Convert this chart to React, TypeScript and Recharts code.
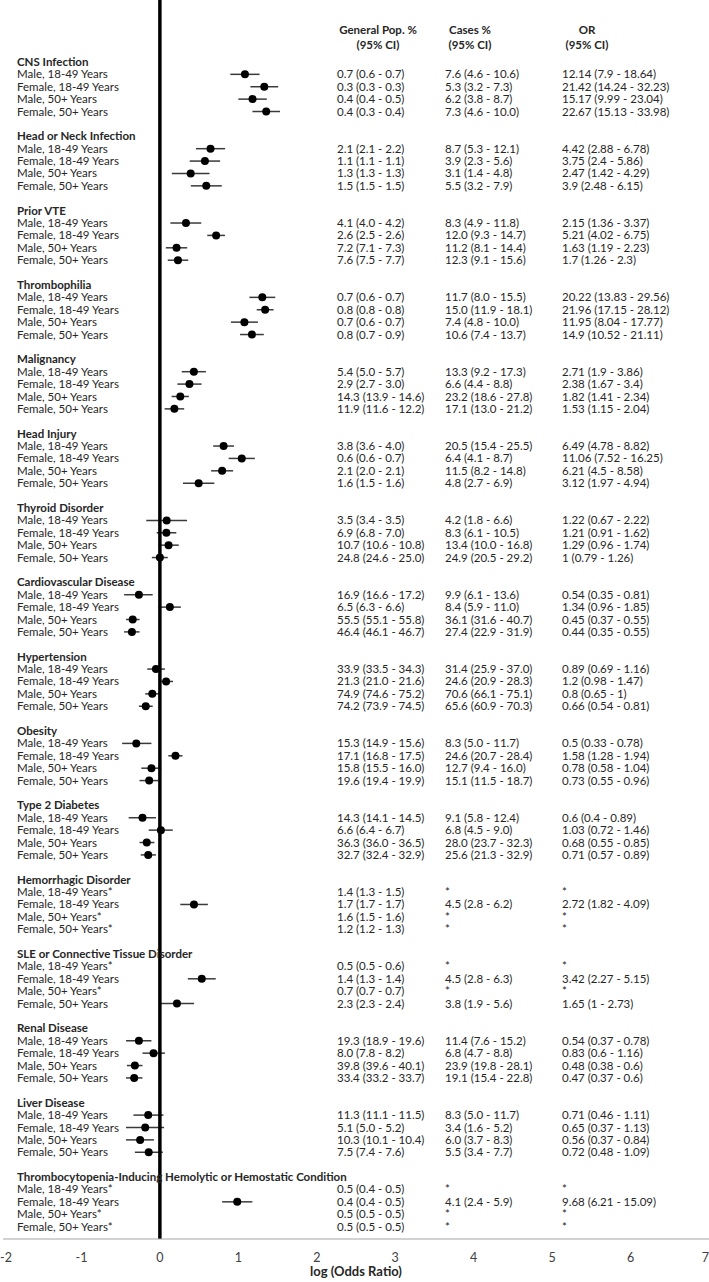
import { ErrorBar, ReferenceLine, Scatter, ScatterChart, XAxis, YAxis } from 'recharts'

/* ---------- Dados ---------- */
const GROUPS = [
  'CNS Infection',
  'Head or Neck Infection',
  'Prior VTE',
  'Thrombophilia',
  'Malignancy',
  'Head Injury',
  'Thyroid Disorder',
  'Cardiovascular Disease',
  'Hypertension',
  'Obesity',
  'Type 2 Diabetes',
  'Hemorrhagic Disorder',
  'SLE or Connective Tissue Disorder',
  'Renal Disease',
  'Liver Disease',
  'Thrombocytopenia-Inducing Hemolytic or Hemostatic Condition',
]

const SUBGROUPS = ['Male, 18-49 Years', 'Female, 18-49 Years', 'Male, 50+ Years', 'Female, 50+ Years']

const COLUMN_HEADERS = ['General Pop. %', 'Cases %', 'OR']
const CI_HEADER = '(95% CI)'

const GEN_POP = [
  ['0.7 (0.6 - 0.7)', '0.3 (0.3 - 0.3)', '0.4 (0.4 - 0.5)', '0.4 (0.3 - 0.4)'],
  ['2.1 (2.1 - 2.2)', '1.1 (1.1 - 1.1)', '1.3 (1.3 - 1.3)', '1.5 (1.5 - 1.5)'],
  ['4.1 (4.0 - 4.2)', '2.6 (2.5 - 2.6)', '7.2 (7.1 - 7.3)', '7.6 (7.5 - 7.7)'],
  ['0.7 (0.6 - 0.7)', '0.8 (0.8 - 0.8)', '0.7 (0.6 - 0.7)', '0.8 (0.7 - 0.9)'],
  ['5.4 (5.0 - 5.7)', '2.9 (2.7 - 3.0)', '14.3 (13.9 - 14.6)', '11.9 (11.6 - 12.2)'],
  ['3.8 (3.6 - 4.0)', '0.6 (0.6 - 0.7)', '2.1 (2.0 - 2.1)', '1.6 (1.5 - 1.6)'],
  ['3.5 (3.4 - 3.5)', '6.9 (6.8 - 7.0)', '10.7 (10.6 - 10.8)', '24.8 (24.6 - 25.0)'],
  ['16.9 (16.6 - 17.2)', '6.5 (6.3 - 6.6)', '55.5 (55.1 - 55.8)', '46.4 (46.1 - 46.7)'],
  ['33.9 (33.5 - 34.3)', '21.3 (21.0 - 21.6)', '74.9 (74.6 - 75.2)', '74.2 (73.9 - 74.5)'],
  ['15.3 (14.9 - 15.6)', '17.1 (16.8 - 17.5)', '15.8 (15.5 - 16.0)', '19.6 (19.4 - 19.9)'],
  ['14.3 (14.1 - 14.5)', '6.6 (6.4 - 6.7)', '36.3 (36.0 - 36.5)', '32.7 (32.4 - 32.9)'],
  ['1.4 (1.3 - 1.5)', '1.7 (1.7 - 1.7)', '1.6 (1.5 - 1.6)', '1.2 (1.2 - 1.3)'],
  ['0.5 (0.5 - 0.6)', '1.4 (1.3 - 1.4)', '0.7 (0.7 - 0.7)', '2.3 (2.3 - 2.4)'],
  ['19.3 (18.9 - 19.6)', '8.0 (7.8 - 8.2)', '39.8 (39.6 - 40.1)', '33.4 (33.2 - 33.7)'],
  ['11.3 (11.1 - 11.5)', '5.1 (5.0 - 5.2)', '10.3 (10.1 - 10.4)', '7.5 (7.4 - 7.6)'],
  ['0.5 (0.4 - 0.5)', '0.4 (0.4 - 0.5)', '0.5 (0.5 - 0.5)', '0.5 (0.5 - 0.5)'],
]

const CASES = [
  ['7.6 (4.6 - 10.6)', '5.3 (3.2 - 7.3)', '6.2 (3.8 - 8.7)', '7.3 (4.6 - 10.0)'],
  ['8.7 (5.3 - 12.1)', '3.9 (2.3 - 5.6)', '3.1 (1.4 - 4.8)', '5.5 (3.2 - 7.9)'],
  ['8.3 (4.9 - 11.8)', '12.0 (9.3 - 14.7)', '11.2 (8.1 - 14.4)', '12.3 (9.1 - 15.6)'],
  ['11.7 (8.0 - 15.5)', '15.0 (11.9 - 18.1)', '7.4 (4.8 - 10.0)', '10.6 (7.4 - 13.7)'],
  ['13.3 (9.2 - 17.3)', '6.6 (4.4 - 8.8)', '23.2 (18.6 - 27.8)', '17.1 (13.0 - 21.2)'],
  ['20.5 (15.4 - 25.5)', '6.4 (4.1 - 8.7)', '11.5 (8.2 - 14.8)', '4.8 (2.7 - 6.9)'],
  ['4.2 (1.8 - 6.6)', '8.3 (6.1 - 10.5)', '13.4 (10.0 - 16.8)', '24.9 (20.5 - 29.2)'],
  ['9.9 (6.1 - 13.6)', '8.4 (5.9 - 11.0)', '36.1 (31.6 - 40.7)', '27.4 (22.9 - 31.9)'],
  ['31.4 (25.9 - 37.0)', '24.6 (20.9 - 28.3)', '70.6 (66.1 - 75.1)', '65.6 (60.9 - 70.3)'],
  ['8.3 (5.0 - 11.7)', '24.6 (20.7 - 28.4)', '12.7 (9.4 - 16.0)', '15.1 (11.5 - 18.7)'],
  ['9.1 (5.8 - 12.4)', '6.8 (4.5 - 9.0)', '28.0 (23.7 - 32.3)', '25.6 (21.3 - 32.9)'],
  ['*', '4.5 (2.8 - 6.2)', '*', '*'],
  ['*', '4.5 (2.8 - 6.3)', '*', '3.8 (1.9 - 5.6)'],
  ['11.4 (7.6 - 15.2)', '6.8 (4.7 - 8.8)', '23.9 (19.8 - 28.1)', '19.1 (15.4 - 22.8)'],
  ['8.3 (5.0 - 11.7)', '3.4 (1.6 - 5.2)', '6.0 (3.7 - 8.3)', '5.5 (3.4 - 7.7)'],
  ['*', '4.1 (2.4 - 5.9)', '*', '*'],
]

// [OR, IC inferior, IC superior]; null = suprimido (*)
const ODDS: ([number, number, number] | null)[][] = [
  [[12.14, 7.9, 18.64], [21.42, 14.24, 32.23], [15.17, 9.99, 23.04], [22.67, 15.13, 33.98]],
  [[4.42, 2.88, 6.78], [3.75, 2.4, 5.86], [2.47, 1.42, 4.29], [3.9, 2.48, 6.15]],
  [[2.15, 1.36, 3.37], [5.21, 4.02, 6.75], [1.63, 1.19, 2.23], [1.7, 1.26, 2.3]],
  [[20.22, 13.83, 29.56], [21.96, 17.15, 28.12], [11.95, 8.04, 17.77], [14.9, 10.52, 21.11]],
  [[2.71, 1.9, 3.86], [2.38, 1.67, 3.4], [1.82, 1.41, 2.34], [1.53, 1.15, 2.04]],
  [[6.49, 4.78, 8.82], [11.06, 7.52, 16.25], [6.21, 4.5, 8.58], [3.12, 1.97, 4.94]],
  [[1.22, 0.67, 2.22], [1.21, 0.91, 1.62], [1.29, 0.96, 1.74], [1, 0.79, 1.26]],
  [[0.54, 0.35, 0.81], [1.34, 0.96, 1.85], [0.45, 0.37, 0.55], [0.44, 0.35, 0.55]],
  [[0.89, 0.69, 1.16], [1.2, 0.98, 1.47], [0.8, 0.65, 1], [0.66, 0.54, 0.81]],
  [[0.5, 0.33, 0.78], [1.58, 1.28, 1.94], [0.78, 0.58, 1.04], [0.73, 0.55, 0.96]],
  [[0.6, 0.4, 0.89], [1.03, 0.72, 1.46], [0.68, 0.55, 0.85], [0.71, 0.57, 0.89]],
  [null, [2.72, 1.82, 4.09], null, null],
  [null, [3.42, 2.27, 5.15], null, [1.65, 1, 2.73]],
  [[0.54, 0.37, 0.78], [0.83, 0.6, 1.16], [0.48, 0.38, 0.6], [0.47, 0.37, 0.6]],
  [[0.71, 0.46, 1.11], [0.65, 0.37, 1.13], [0.56, 0.37, 0.84], [0.72, 0.48, 1.09]],
  [null, [9.68, 6.21, 15.09], null, null],
]

const X_TICKS = [-2, -1, 0, 1, 2, 3, 4, 5, 6, 7]

/* ---------- Layout das linhas (cabeçalho + 4 subgrupos + espaço) ---------- */
const SLOTS_PER_GROUP = 6
const HEADER_LINE_1 = -2.6
const HEADER_LINE_2 = -1.4

const points = ODDS.flatMap((rows, g) =>
  rows.flatMap((o, r) => {
    if (!o) return []
    const x = Math.log10(o[0])
    return [{ slot: g * SLOTS_PER_GROUP + r + 1, x, err: [x - Math.log10(o[1]), Math.log10(o[2]) - x] }]
  }),
)

// linhas de texto (rótulos + colunas), posicionadas pela escala do eixo Y
const textRows = [
  { slot: HEADER_LINE_1, x: 0, g: -1, r: -1 },
  { slot: HEADER_LINE_2, x: 0, g: -1, r: -2 },
  ...GROUPS.flatMap((_, g) => [0, 1, 2, 3, 4].map((r) => ({ slot: g * SLOTS_PER_GROUP + r, x: 0, g, r }))),
]

const FONT = 'Lato, "Open Sans", sans-serif'
const TEXT = '#262626'
const COL_X = [337, 445, 562]
const HEAD_X = [378, 470, 587]

function RowText({ cy, payload }: any) {
  const { g, r } = payload
  const y = cy
  const common = { fontFamily: FONT, fontSize: 11.5, fill: TEXT, dy: '0.35em' }
  if (g < 0) {
    return (
      <g>
        {HEAD_X.map((hx, i) => (
          <text key={i} x={hx} y={y} textAnchor="middle" fontWeight={700} {...common}>
            {r === -1 ? COLUMN_HEADERS[i] : CI_HEADER}
          </text>
        ))}
      </g>
    )
  }
  if (r === 0) {
    return (
      <text x={17} y={y} fontWeight={700} {...common}>
        {GROUPS[g]}
      </text>
    )
  }
  const i = r - 1
  const o = ODDS[g][i]
  const starred = CASES[g][i] === '*'
  const cells = [GEN_POP[g][i], CASES[g][i], o ? `${o[0]} (${o[1]} - ${o[2]})` : '*']
  return (
    <g>
      <text x={17} y={y} {...common}>
        {SUBGROUPS[i] + (starred ? '*' : '')}
      </text>
      {cells.map((c, k) => (
        <text key={k} x={COL_X[k]} y={y} {...common}>
          {c}
        </text>
      ))}
    </g>
  )
}

function XTick({ x, y, payload }: any) {
  const v = payload.value
  const anchor = v === X_TICKS[0] ? 'start' : v === X_TICKS[X_TICKS.length - 1] ? 'end' : 'middle'
  const dx = v === X_TICKS[0] ? -3 : 0
  return (
    <text x={x + dx} y={y + 6} dy="0.71em" textAnchor={anchor} fill="#404040" fontSize={12.5} fontFamily={FONT}>
      {v}
    </text>
  )
}

export default function App() {
  return (
    <div style={{ position: 'absolute', left: 0, top: 0, background: '#fff' }}>
      <ScatterChart width={709} height={1282} margin={{ top: 0, right: 0, bottom: 0, left: 3 }}>
        <XAxis
          type="number"
          dataKey="x"
          domain={[-2, 7]}
          ticks={X_TICKS}
          interval={0}
          allowDataOverflow
          tickLine={false}
          axisLine={{ stroke: '#a6a6a6' }}
          tick={(p: any) => <XTick {...p} />}
          height={43}
          label={{
            value: 'log (Odds Ratio)',
            position: 'insideBottom',
            offset: 6,
            fontWeight: 700,
            fontSize: 13,
            fill: TEXT,
            fontFamily: FONT,
          }}
        />
        <YAxis type="number" dataKey="slot" domain={[-5, 95]} reversed hide />
        <Scatter
          data={textRows}
          isAnimationActive={false}
          shape={(p: any) => <RowText {...p} />}
        />
        <Scatter
          data={points}
          isAnimationActive={false}
          shape={(p: any) => <circle cx={p.cx} cy={p.cy} r={4} fill="#000" />}
        >
          <ErrorBar dataKey="err" direction="x" width={0} stroke="#3a3a3a" strokeWidth={1.5} />
        </Scatter>
        <ReferenceLine x={0} stroke="#000" strokeWidth={3.5} />
      </ScatterChart>
    </div>
  )
}
